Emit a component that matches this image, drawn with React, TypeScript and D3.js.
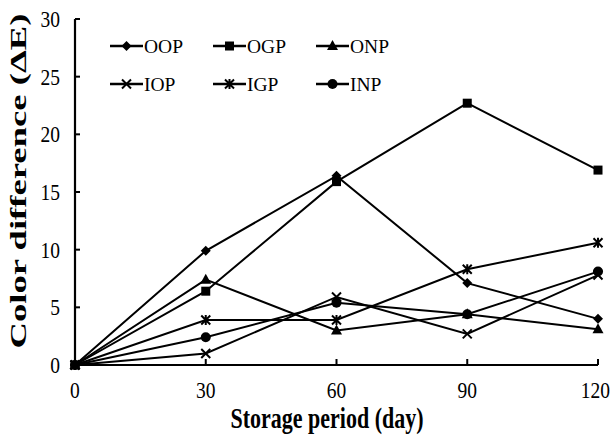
import React from "react";
import * as d3 from "d3";

const days = [0, 30, 60, 90, 120];
const OOP = [0, 9.9, 16.4, 7.1, 4.0];
const OGP = [0, 6.4, 15.9, 22.7, 16.9];
const ONP = [0, 7.4, 3.0, 4.4, 3.1];
const IOP = [0, 1.0, 5.9, 2.7, 7.8];
const IGP = [0, 3.9, 3.9, 8.3, 10.6];
const INP = [0, 2.4, 5.4, 4.4, 8.1];
const seriesNames = ["OOP", "OGP", "ONP", "IOP", "IGP", "INP"];
const seriesValues = [OOP, OGP, ONP, IOP, IGP, INP];
const markerTypes = ["diamond", "square", "triangle", "x", "asterisk", "circle"];
const yTicks = [0, 5, 10, 15, 20, 25, 30];
const xTicks = [0, 30, 60, 90, 120];

const W = 611, H = 436;
const x = d3.scaleLinear().domain([0, 120]).range([75, 598]);
const y = d3.scaleLinear().domain([0, 30]).range([365, 19]);

function Marker({ type, cx, cy }: { type: string; cx: number; cy: number }) {
  const s = 4.5;
  switch (type) {
    case "diamond":
      return <path d={`M${cx},${cy - 5}L${cx + 5},${cy}L${cx},${cy + 5}L${cx - 5},${cy}Z`} fill="#000" />;
    case "square":
      return <rect x={cx - 4.5} y={cy - 4.5} width={9} height={9} fill="#000" />;
    case "triangle":
      return <path d={`M${cx},${cy - 6}L${cx + 5.5},${cy + 4}L${cx - 5.5},${cy + 4}Z`} fill="#000" />;
    case "circle":
      return <circle cx={cx} cy={cy} r={5} fill="#000" />;
    case "x":
      return (
        <path d={`M${cx - s},${cy - s}L${cx + s},${cy + s}M${cx - s},${cy + s}L${cx + s},${cy - s}`} stroke="#000" strokeWidth={2} />
      );
    case "asterisk":
      return (
        <path
          d={`M${cx - s},${cy - s}L${cx + s},${cy + s}M${cx - s},${cy + s}L${cx + s},${cy - s}M${cx},${cy - 5}L${cx},${cy + 5}`}
          stroke="#000"
          strokeWidth={2}
        />
      );
  }
  return null;
}

export default function App() {
  const line = d3
    .line<number>()
    .x((_, i) => x(days[i]))
    .y((d) => y(d));
  const legendCols = [110, 213, 316];
  const legendRows = [46, 84];
  return (
    <svg width={W} height={H} style={{ position: "absolute", left: 0, top: 0, background: "#fff" }}>
      <rect width={W} height={H} fill="#fff" />
      <line x1={x(0)} x2={x(0)} y1={y(30)} y2={y(0)} stroke="#000" strokeWidth={2.2} />
      <line x1={x(0)} x2={x(120)} y1={y(0)} y2={y(0)} stroke="#000" strokeWidth={2.2} />
      {yTicks.map((t) => (
        <g key={"y" + t}>
          <line x1={x(0)} x2={x(0) + 5} y1={y(t)} y2={y(t)} stroke="#000" strokeWidth={2} />
          <text
            x={60}
            y={y(t)}
            textAnchor="end"
            fontFamily="Liberation Serif"
            fontSize={19.5}
            transform={`translate(0,${y(t)}) scale(1,1.15) translate(0,${-y(t)})`}
            dy="0.35em"
          >
            {t}
          </text>
        </g>
      ))}
      {xTicks.map((t, i) => {
        const last = i === xTicks.length - 1;
        return (
          <g key={"x" + t}>
            <line x1={x(t)} x2={x(t)} y1={y(0)} y2={y(0) - 6} stroke="#000" strokeWidth={2} />
            <text
              x={last ? 610 : x(t)}
              y={398}
              textAnchor={last ? "end" : "middle"}
              fontFamily="Liberation Serif"
              fontSize={19.5}
              transform={`translate(0,398) scale(1,1.15) translate(0,-398)`}
            >
              {t}
            </text>
          </g>
        );
      })}
      {seriesValues.map((vals, si) => (
        <g key={seriesNames[si]}>
          <path d={line(vals) || ""} fill="none" stroke="#000" strokeWidth={2} />
          {vals.map((v, i) => (
            <Marker key={i} type={markerTypes[si]} cx={x(days[i])} cy={y(v)} />
          ))}
        </g>
      ))}
      {seriesNames.map((n, i) => {
        const lx = legendCols[i % 3];
        const ly = legendRows[Math.floor(i / 3)];
        return (
          <g key={"lg" + n}>
            <line x1={lx} x2={lx + 33} y1={ly} y2={ly} stroke="#000" strokeWidth={2.4} />
            <Marker type={markerTypes[i]} cx={lx + 16.5} cy={ly} />
            <text x={lx + 34} y={ly} dy="0.35em" fontFamily="Liberation Serif" fontSize={19.5}>
              {n}
            </text>
          </g>
        );
      })}
      <text
        x={327}
        y={428}
        textAnchor="middle"
        fontFamily="Liberation Serif"
        fontWeight="bold"
        fontSize={22}
        transform="translate(0,428) scale(1,1.3) translate(0,-428)"
      >
        Storage period (day)
      </text>
      <text
        transform="translate(26,181) rotate(-90)"
        textAnchor="middle"
        fontFamily="Liberation Serif"
        fontWeight="bold"
        fontSize={23}
        textLength={335}
        lengthAdjust="spacingAndGlyphs"
      >
        Color difference (ΔE)
      </text>
    </svg>
  );
}
